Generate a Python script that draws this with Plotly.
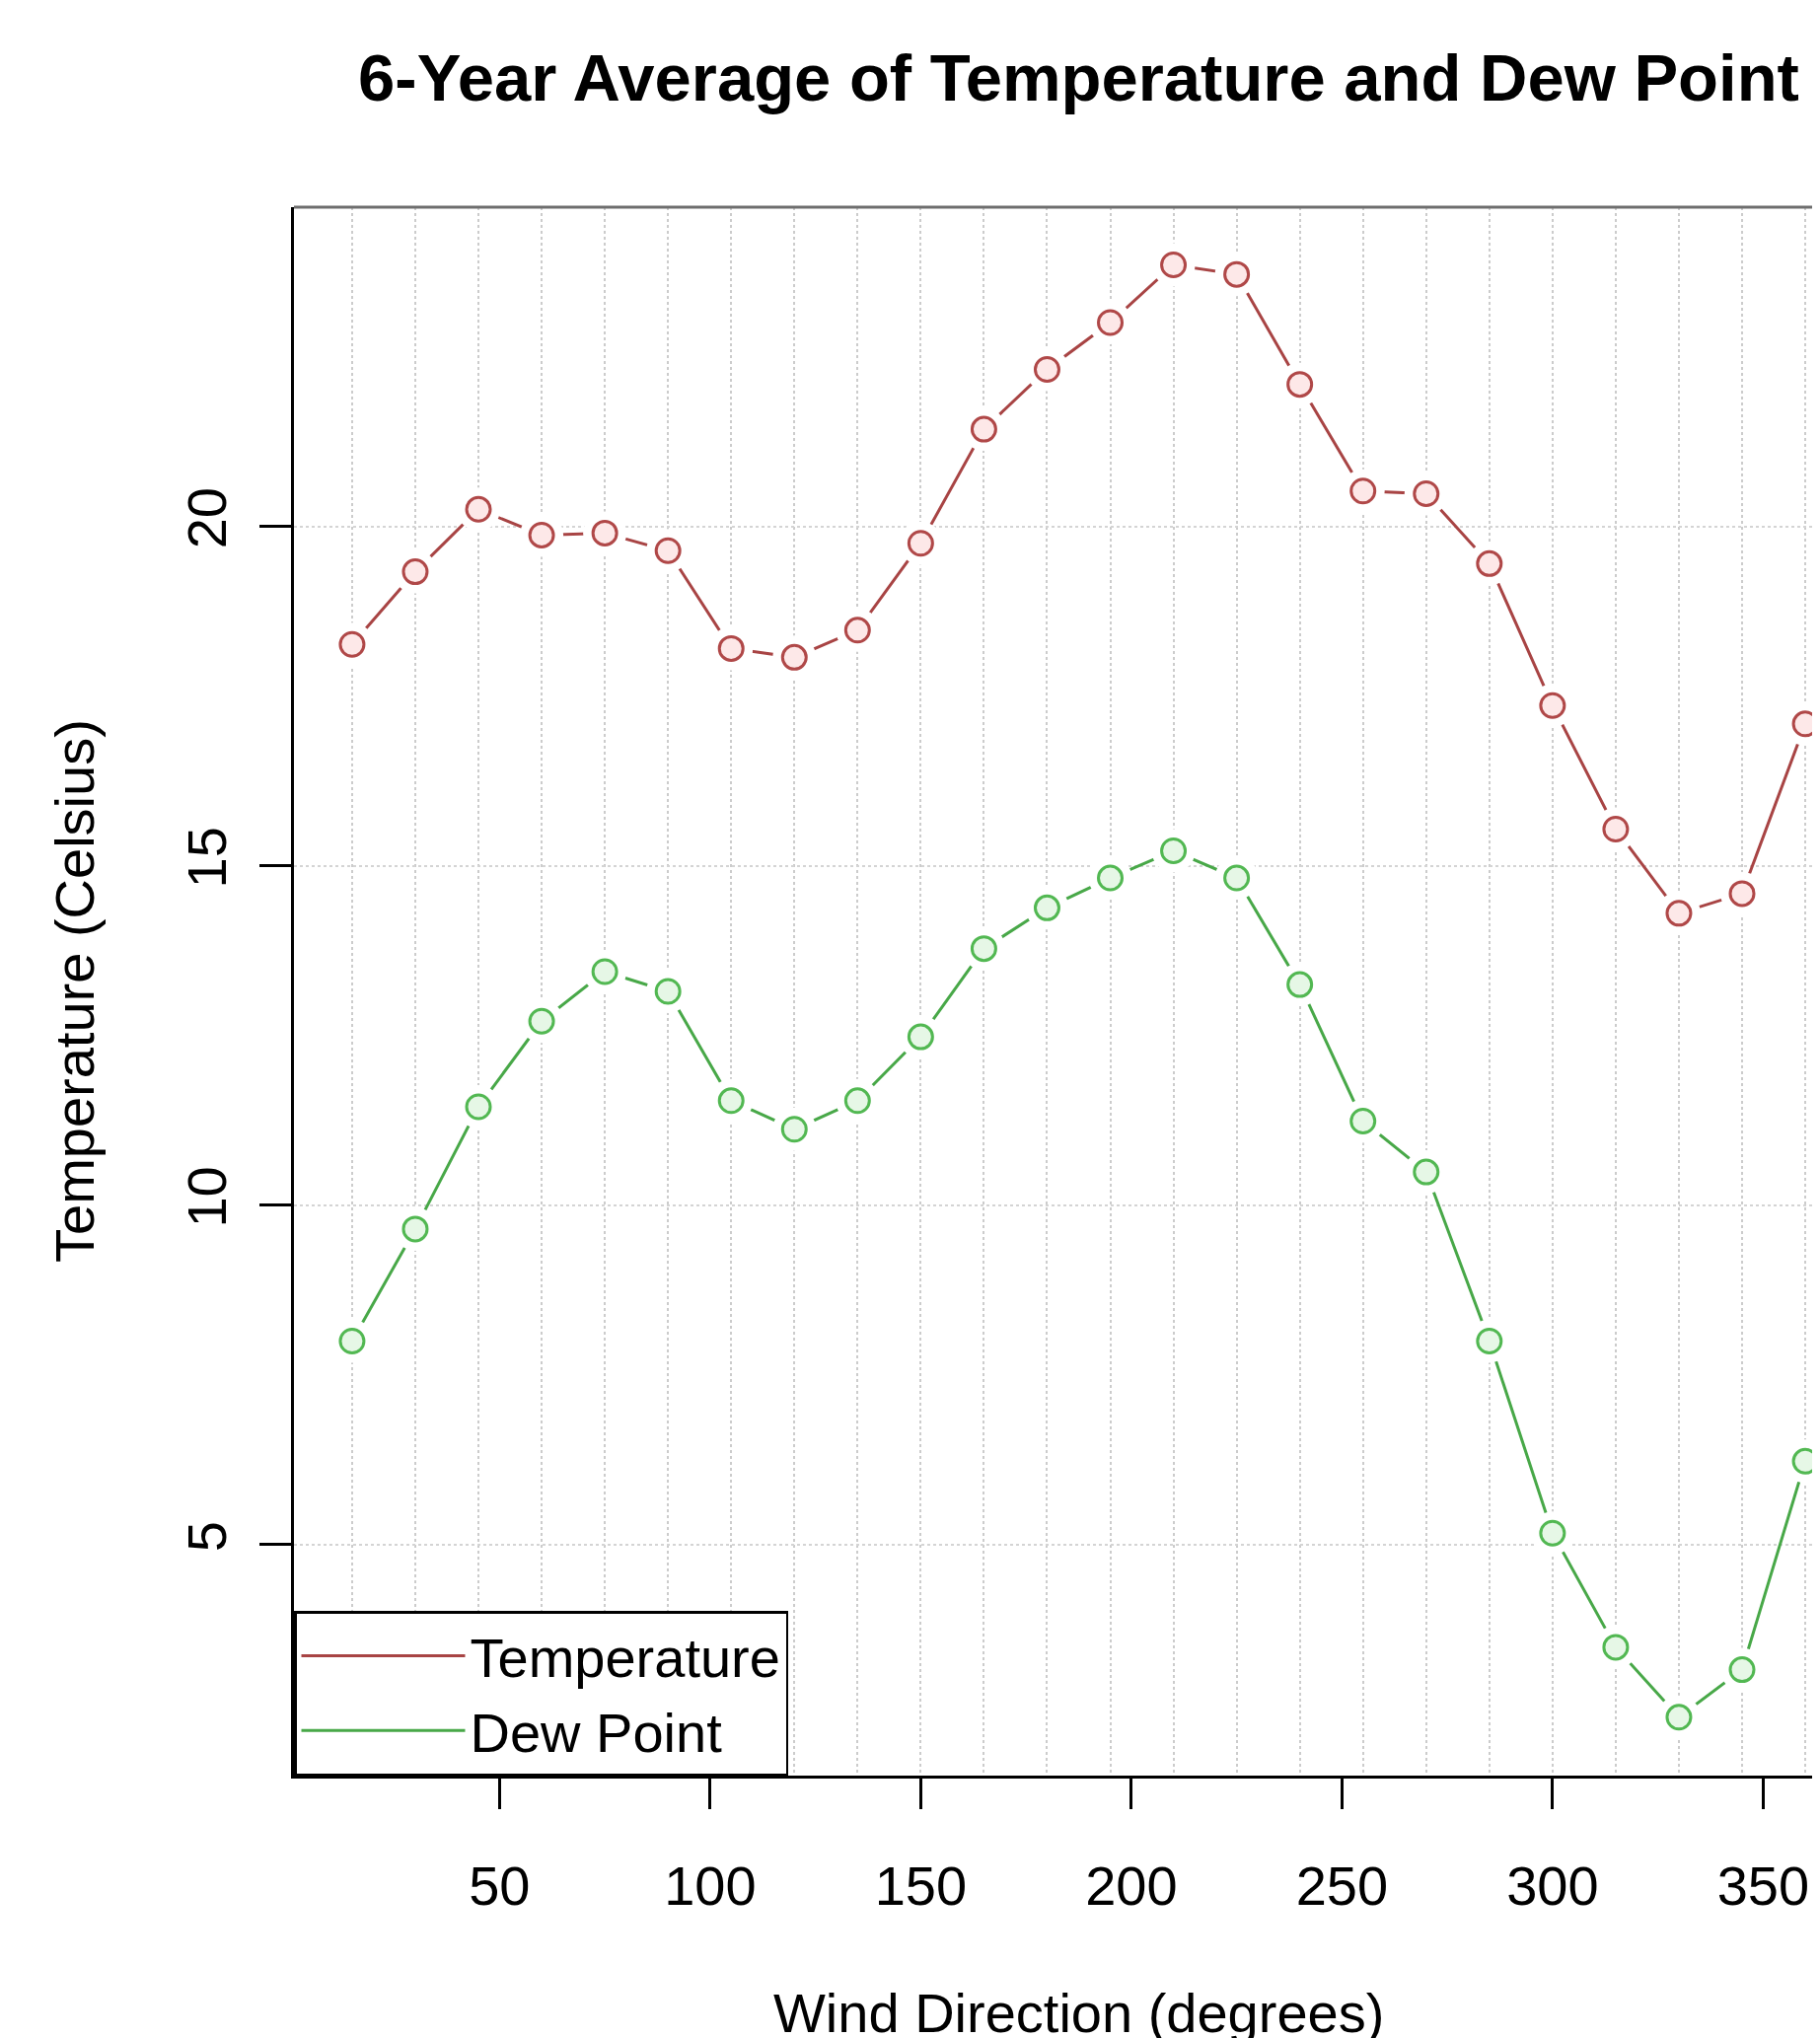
import plotly.graph_objects as go

# ---- data ----
wind_direction = [15, 30, 45, 60, 75, 90, 105, 120, 135, 150, 165, 180,
                  195, 210, 225, 240, 255, 270, 285, 300, 315, 330, 345, 360]
temperature = [18.26, 19.33, 20.25, 19.87, 19.90, 19.64, 18.20, 18.07, 18.47, 19.75, 21.43, 22.31,
               23.00, 23.85, 23.71, 22.09, 20.52, 20.48, 19.45, 17.36, 15.54, 14.30, 14.59, 17.09]
dew_point = [8.00, 9.65, 11.45, 12.71, 13.44, 13.15, 11.54, 11.12, 11.54, 12.48, 13.78, 14.38,
             14.82, 15.22, 14.82, 13.25, 11.24, 10.49, 8.00, 5.17, 3.49, 2.46, 3.16, 6.23]
x_ticks = [50, 100, 150, 200, 250, 300, 350]
y_ticks = [5, 10, 15, 20]

TEMP_LINE = "#a84444"
TEMP_MARK = "#b04848"
TEMP_FILL = "#fde8e8"
DEW_LINE = "#48a848"
DEW_MARK = "#52b852"
DEW_FILL = "#e6f7e6"
FONT = "Liberation Sans, Arial, Helvetica, sans-serif"

X_RANGE = [1.2, 363.5]
Y_RANGE = [1.6, 24.7]

# page body has an 8px margin: figure coordinates = page coordinates - 8
OFF = 8
W, H = 1845 - OFF, 2066 - OFF
L, T, B = 298 - OFF, 210 - OFF, 2066 - 1800
PW, PH = W - L, H - T - B

fig = go.Figure()

# connecting lines (base subplot)
fig.add_trace(go.Scatter(x=wind_direction, y=temperature, mode="lines",
                         name="Temperature", line=dict(color=TEMP_LINE, width=3),
                         xaxis="x", yaxis="y"))
fig.add_trace(go.Scatter(x=wind_direction, y=dew_point, mode="lines",
                         name="Dew Point", line=dict(color=DEW_LINE, width=3),
                         xaxis="x", yaxis="y"))
# white halos on the overlay subplot: small gaps around the points (R type = "b")
for series in (temperature, dew_point):
    fig.add_trace(go.Scatter(x=wind_direction, y=series, mode="markers",
                             marker=dict(symbol="circle", size=44, color="#ffffff",
                                         opacity=1, line=dict(width=0)),
                             xaxis="x2", yaxis="y", showlegend=False, hoverinfo="skip"))
# open circle markers
fig.add_trace(go.Scatter(x=wind_direction, y=temperature, mode="markers",
                         marker=dict(symbol="circle", size=24, color=TEMP_FILL,
                                     line=dict(color=TEMP_MARK, width=3)),
                         xaxis="x2", yaxis="y", showlegend=False, name="Temperature"))
fig.add_trace(go.Scatter(x=wind_direction, y=dew_point, mode="markers",
                         marker=dict(symbol="circle", size=24, color=DEW_FILL,
                                     line=dict(color=DEW_MARK, width=3)),
                         xaxis="x2", yaxis="y", showlegend=False, name="Dew Point"))

fig.update_layout(
    width=W, height=H,
    margin=dict(l=L, r=0, t=T, b=B, autoexpand=False),
    paper_bgcolor="white", plot_bgcolor="white",
    font=dict(family=FONT, size=56, color="black"),
    title=dict(text="<b>6-Year Average of Temperature and Dew Point</b>",
               x=(1093.5 - OFF) / W, xref="container", xanchor="center",
               y=1 - (79 - OFF) / H, yref="container", yanchor="middle",
               font=dict(family=FONT, size=67, color="black")),
    xaxis=dict(range=X_RANGE, tickmode="array", tickvals=wind_direction,
               showticklabels=False, ticks="", showgrid=True,
               gridcolor="#cccccc", griddash="dot", gridwidth=2,
               zeroline=False, showline=True, linecolor="black", linewidth=2.5,
               mirror=False),
    xaxis2=dict(range=X_RANGE, overlaying="x", side="bottom", tickmode="array",
                tickvals=x_ticks, ticktext=[str(v) for v in x_ticks],
                ticks="outside", ticklen=33, tickwidth=2.5, tickcolor="black",
                showgrid=False, zeroline=False, showline=False,
                ticklabelstandoff=30,
                tickfont=dict(family=FONT, size=56, color="black")),
    yaxis=dict(range=Y_RANGE, tickmode="array", tickvals=y_ticks,
               ticktext=[str(v) for v in y_ticks], tickangle=-90,
               ticks="outside", ticklen=32, tickwidth=2.5, tickcolor="black",
               showgrid=True, gridcolor="#d4d4d4", griddash="dot", gridwidth=2,
               zeroline=False, showline=True, linecolor="black", linewidth=2.5,
               mirror=False, ticklabelstandoff=12,
               tickfont=dict(family=FONT, size=56, color="black")),
    legend=dict(x=0, y=0, xanchor="left", yanchor="bottom",
                bgcolor="white", bordercolor="black", borderwidth=2.5,
                font=dict(family=FONT, size=56, color="black"),
                itemwidth=166, tracegroupgap=0),
    shapes=[dict(type="line", xref="paper", yref="paper", x0=0, x1=1, y0=1, y1=1,
                 line=dict(color="#6e6e6e", width=3))],
    annotations=[
        dict(text="Wind Direction (degrees)", xref="paper", yref="paper",
             x=(1093.5 - 298) / PW, y=-(2040 - 1800) / PH,
             xanchor="center", yanchor="middle", showarrow=False,
             font=dict(family=FONT, size=56, color="black")),
        dict(text="Temperature (Celsius)", xref="paper", yref="paper",
             x=-(298 - 75) / PW, y=0.5, textangle=-90,
             xanchor="center", yanchor="middle", showarrow=False,
             font=dict(family=FONT, size=56, color="black")),
    ],
)

fig.write_html("out.html")
